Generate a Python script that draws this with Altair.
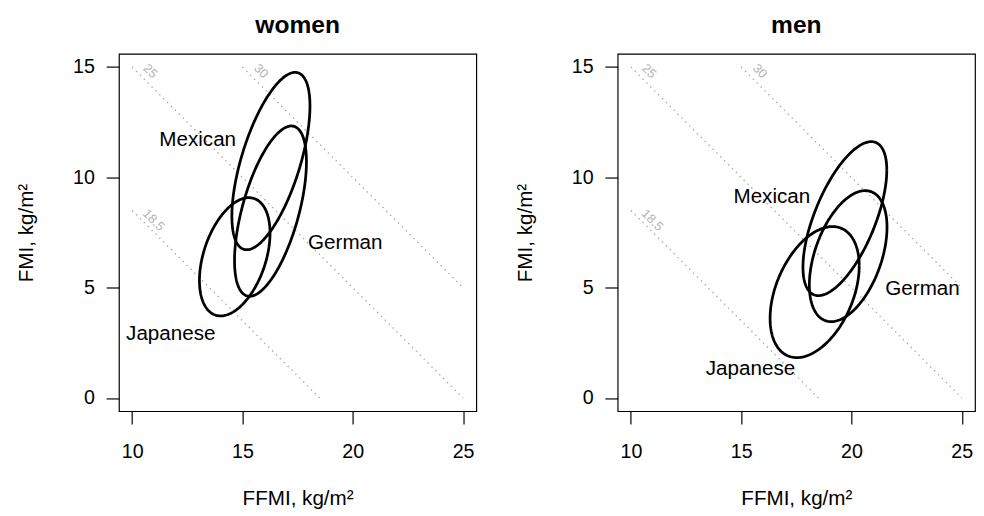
import altair as alt
import numpy as np
import pandas as pd

# ---- data ----
panels = ["women", "men"]
groups = ["Mexican", "German", "Japanese"]

# ellipse parameters: centre, half-extent in x / y, correlation
women_cx = [16.29, 16.27, 14.65]
women_cy = [10.74, 8.47, 6.40]
women_sx = [1.77, 1.63, 1.60]
women_sy = [4.02, 3.86, 2.68]
women_r = [0.62, 0.58, 0.40]

men_cx = [19.70, 19.85, 18.33]
men_cy = [8.13, 6.43, 4.80]
men_sx = [1.90, 1.76, 2.02]
men_sy = [3.49, 2.97, 2.97]
men_r = [0.63, 0.44, 0.40]

# group label positions (FFMI, FMI)
women_lab_x = [12.97, 19.66, 11.75]
women_lab_y = [11.69, 7.02, 2.91]
men_lab_x = [16.39, 23.22, 15.42]
men_lab_y = [9.10, 4.94, 1.30]

# BMI iso-lines (FMI = BMI - FFMI)
bmi_values = [18.5, 25, 30]
bmi_labels = ["18.5", "25", "30"]
bmi_ffmi_start = [10, 10, 15]
bmi_ffmi_end = [18.5, 25, 25]
bmi_lab_x = [10.97, 10.82, 15.84]
bmi_lab_y = [8.06, 14.81, 14.81]

x_ticks = [10, 15, 20, 25]
y_ticks = [0, 5, 10, 15]

FONT = "Liberation Sans"


def ellipse_df(cx, cy, sx, sy, r):
    t = np.linspace(0, 2 * np.pi, 241)
    rows = []
    for g, mx, my, ax, ay, rho in zip(groups, cx, cy, sx, sy, r):
        a = np.arccos(rho)
        xs = mx + ax * np.cos(t)
        ys = my + ay * np.cos(t - a)
        for i, (xv, yv) in enumerate(zip(xs, ys)):
            rows.append({"group": g, "i": i, "ffmi": xv, "fmi": yv})
    return pd.DataFrame(rows)


bmi_df = pd.DataFrame({
    "bmi": bmi_values,
    "x": bmi_ffmi_start,
    "x2": bmi_ffmi_end,
})
bmi_df["y"] = bmi_df["bmi"] - bmi_df["x"]
bmi_df["y2"] = bmi_df["bmi"] - bmi_df["x2"]

bmi_lab_df = pd.DataFrame({"label": bmi_labels, "x": bmi_lab_x, "y": bmi_lab_y})

xscale = alt.Scale(domain=[9.4, 25.6], nice=False, zero=False)
yscale = alt.Scale(domain=[-0.6, 15.6], nice=False, zero=False)
xaxis = alt.Axis(values=x_ticks, title="FFMI, kg/m²", titlePadding=27, labelPadding=18)
yaxis = alt.Axis(values=y_ticks, title="FMI, kg/m²", titlePadding=37, labelPadding=12)


def panel(name, cx, cy, sx, sy, r, lx, ly):
    base_x = alt.X("x:Q", scale=xscale, axis=xaxis)
    base_y = alt.Y("y:Q", scale=yscale, axis=yaxis)
    lines = alt.Chart(bmi_df).mark_rule(
        color="#a8a8a8", strokeWidth=1.4, strokeDash=[1.4, 4.2]
    ).encode(x=base_x, y=base_y, x2="x2:Q", y2="y2:Q")
    bmi_text = alt.Chart(bmi_lab_df).mark_text(
        font=FONT, fontSize=13, color="#b4b4b4", angle=45
    ).encode(x=alt.X("x:Q", scale=xscale), y=alt.Y("y:Q", scale=yscale), text="label:N")
    ell = alt.Chart(ellipse_df(cx, cy, sx, sy, r)).mark_line(
        color="black", strokeWidth=2.8
    ).encode(
        x=alt.X("ffmi:Q", scale=xscale),
        y=alt.Y("fmi:Q", scale=yscale),
        detail="group:N",
        order="i:Q",
    )
    lab_df = pd.DataFrame({"group": groups, "x": lx, "y": ly})
    labels = alt.Chart(lab_df).mark_text(
        font=FONT, fontSize=21, color="black"
    ).encode(x=alt.X("x:Q", scale=xscale), y=alt.Y("y:Q", scale=yscale), text="group:N")
    return alt.layer(lines, bmi_text, ell, labels).properties(
        width=364, height=364,
        title=alt.TitleParams(name, fontSize=25, fontWeight="bold", font=FONT,
                              color="black", baseline="alphabetic", offset=-4),
    )


left = panel("women", women_cx, women_cy, women_sx, women_sy, women_r, women_lab_x, women_lab_y)
right = panel("men", men_cx, men_cy, men_sx, men_sy, men_r, men_lab_x, men_lab_y)

chart = alt.hconcat(left, right, spacing=37).properties(
    padding={"left": 7, "top": 0, "right": 0, "bottom": 0}
).configure_view(
    stroke="black", strokeWidth=1.2
).configure_axis(
    domain=False, grid=False, tickColor="black", tickSize=13, tickWidth=1.2,
    labelFont=FONT, labelFontSize=20, labelColor="black",
    titleFont=FONT, titleFontSize=21, titleFontWeight="normal", titleColor="black",
).configure_axisY(labelAngle=0)

chart.save("out.html", embed_options={"renderer": "svg", "actions": False})
